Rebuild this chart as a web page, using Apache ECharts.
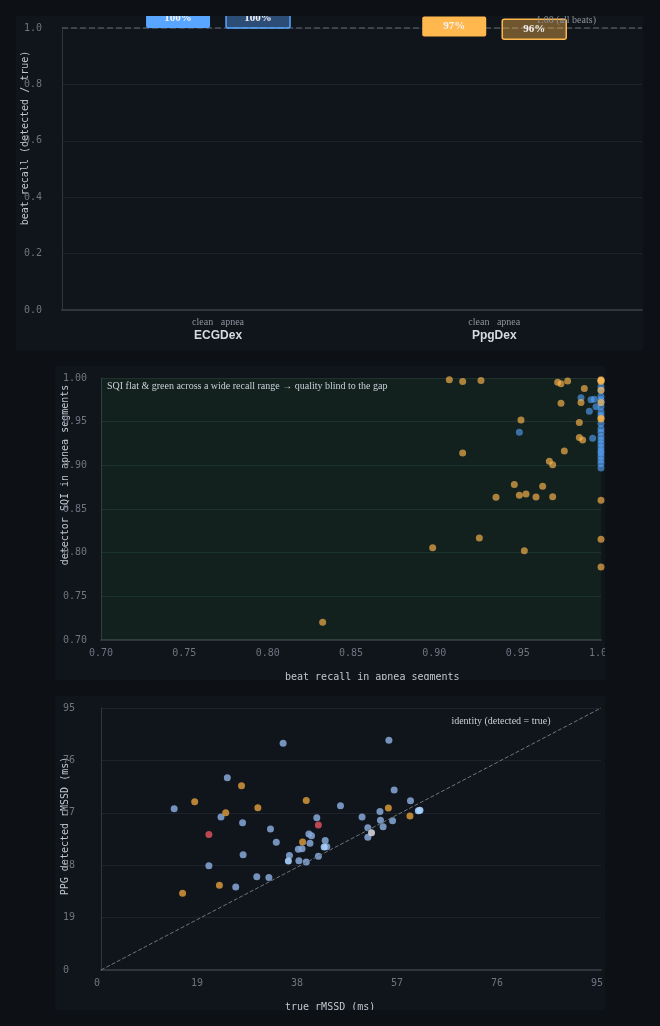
<!DOCTYPE html>
<html>
<head>
<meta charset="utf-8">
<style>
  html, body { margin: 0; padding: 0; background: #0d1015; }
  body { width: 660px; height: 1026px; position: relative; overflow: hidden; }
  .panel { position: absolute; background: #10141b; }
</style>
</head>
<body>
<div id="recallChart" class="panel" style="left:16px; top:16px; width:627px; height:334px"></div>
<div id="sqiChart" class="panel" style="left:55px; top:366px; width:550px; height:314px"></div>
<div id="rmssdChart" class="panel" style="left:55px; top:696px; width:550px; height:314px"></div>
<script src="https://cdn.jsdelivr.net/npm/echarts@6.0.0/dist/echarts.min.js"></script>
<script>
  // ---- data ----
  var detectors = ['ECGDex', 'PpgDex'];
  var conditions = ['clean', 'apnea'];
  var recallClean = [1.00, 0.97];
  var recallApnea = [1.00, 0.96];
  var recallTicks = [0, 0.2, 0.4, 0.6, 0.8, 1.0];

  // [beat recall, SQI] per apnea segment
  var ecgApnea = [
    [0.988, 0.9775], [0.994, 0.975], [0.996, 0.9756], [0.993, 0.962], [0.997, 0.967],
    [0.951, 0.938], [0.995, 0.931],
    [1, 0.997], [1, 0.990], [1, 0.986], [1, 0.979], [1, 0.975], [1, 0.972], [1, 0.967],
    [1, 0.961], [1, 0.957], [1, 0.948], [1, 0.942], [1, 0.938], [1, 0.933], [1, 0.929],
    [1, 0.925], [1, 0.921], [1, 0.917], [1, 0.914], [1, 0.910], [1, 0.906], [1, 0.902], [1, 0.897]
  ];
  var ppgApnea = [
    [0.909, 0.998], [0.917, 0.996], [0.928, 0.997], [0.974, 0.995], [0.976, 0.9935],
    [0.980, 0.9966], [0.990, 0.988], [0.988, 0.972], [0.976, 0.971], [0.952, 0.952],
    [0.987, 0.949], [0.987, 0.932], [0.989, 0.929], [0.917, 0.914], [0.978, 0.9164],
    [0.969, 0.9046], [0.971, 0.9007], [0.948, 0.878], [0.965, 0.876], [0.937, 0.8634],
    [0.951, 0.8657], [0.955, 0.8672], [0.961, 0.8637], [0.971, 0.8641], [1, 0.860],
    [0.927, 0.8168], [1, 0.8153], [0.899, 0.8057], [0.954, 0.8023], [1, 0.7836], [0.833, 0.7203],
    [1, 0.998], [1, 0.997], [1, 0.996], [1, 0.986], [1, 0.972], [1, 0.954], [1, 0.953]
  ];

  // [true rMSSD, PPG detected rMSSD] in ms
  var rmssdBlue = [
    [34.6, 82.2], [54.7, 83.3], [24.0, 69.7], [13.9, 58.5], [22.8, 55.5], [26.9, 53.4],
    [45.5, 59.6], [41.0, 55.2], [32.2, 51.1], [39.5, 49.3], [40.0, 48.7], [42.6, 47.0],
    [39.7, 46.0], [33.3, 46.3], [42.9, 44.7], [37.5, 43.8], [38.2, 44.0], [27.0, 41.8],
    [35.8, 41.5], [41.3, 41.2], [37.6, 39.6], [39.0, 39.2], [20.5, 37.8], [29.6, 33.8],
    [31.9, 33.5], [25.6, 30.1], [55.7, 65.3], [58.8, 61.4], [53.0, 57.5], [49.6, 55.5],
    [53.1, 54.3], [55.4, 54.1], [50.7, 51.6], [53.6, 51.9], [50.7, 48.1]
  ];
  var rmssdOrange = [
    [26.7, 66.8], [17.8, 61.0], [39.0, 61.5], [29.8, 58.8], [23.7, 57.0], [38.3, 46.4],
    [22.5, 30.7], [15.5, 27.8], [54.6, 58.7], [58.7, 55.8]
  ];
  var rmssdRed = [[41.3, 52.6], [20.5, 49.1]];
  var rmssdLight = [[42.4, 44.6], [35.6, 39.5], [60.3, 57.7], [60.6, 57.9]];
  var rmssdWhite = [[51.4, 49.8]];
  var rmssdMax = 95;

  // ---- styles ----
  var detColors = ['#58a6ff', '#ffb84d'];
  var apneaFill = ['rgba(88,166,255,0.4)', 'rgba(255,184,77,0.4)'];
  var tickColor = '#6e7681';
  var titleColor = '#c0c7cf';
  var gridColor = '#1e232b';
  var axisColor = '#30363d';
  var mono = '"DejaVu Sans Mono", monospace';
  var serif = '"Liberation Serif", serif';

  function gridAt(left, right, top, bottom) {
    return { left: left, right: right, top: top, bottom: bottom, containLabel: false, outerBoundsMode: 'none' };
  }
  function yTitle(text, x, y) {
    return {
      type: 'text', x: x, y: y, rotation: Math.PI / 2,
      style: {
        text: text, fill: titleColor, font: '10px ' + mono,
        textAlign: 'center', textVerticalAlign: 'middle', align: 'center', verticalAlign: 'middle'
      }
    };
  }
  function plainText(text, x, y, font, color, align) {
    return {
      type: 'text', x: x, y: y, z: 100,
      style: {
        text: text, fill: color, font: font,
        textAlign: align, textVerticalAlign: 'middle', align: align, verticalAlign: 'middle'
      }
    };
  }

  // ---- panel 1: beat recall boxes ----
  var boxData = [];
  detectors.forEach(function (d, i) {
    boxData.push([i, 0, recallClean[i]]);
    boxData.push([i, 1, recallApnea[i]]);
  });

  function renderBox(params, api) {
    var det = api.value(0), cond = api.value(1), v = api.value(2);
    var p = api.coord([det, v]);
    var w = 64, h = 20;
    var cx = p[0] + (cond === 0 ? -40 : 40);
    var isApnea = cond === 1;
    return {
      type: 'group',
      children: [{
        type: 'rect',
        shape: { x: cx - w / 2, y: p[1] - h, width: w, height: h, r: 2 },
        style: {
          fill: isApnea ? apneaFill[det] : detColors[det],
          stroke: isApnea ? detColors[det] : null,
          lineWidth: 1.5
        }
      }, {
        type: 'text',
        style: {
          text: Math.round(v * 100) + '%', x: cx, y: p[1] - h / 2,
          fill: '#f4f4f4', font: 'bold 11px ' + serif,
          textAlign: 'center', textVerticalAlign: 'middle', align: 'center', verticalAlign: 'middle'
        }
      }]
    };
  }

  function renderCategory(params, api) {
    var det = api.value(0);
    var p = api.coord([det, 0]);
    return {
      type: 'group',
      children: [{
        type: 'text',
        style: {
          text: conditions.join('   '), x: p[0], y: p[1] + 12,
          fill: '#8b949e', font: '10px ' + serif,
          textAlign: 'center', textVerticalAlign: 'middle', align: 'center', verticalAlign: 'middle'
        }
      }, {
        type: 'text',
        style: {
          text: detectors[det], x: p[0], y: p[1] + 26,
          fill: '#d5dae0', font: 'bold 12px "Liberation Sans", sans-serif',
          textAlign: 'center', textVerticalAlign: 'middle', align: 'center', verticalAlign: 'middle'
        }
      }]
    };
  }

  var recallChart = echarts.init(document.getElementById('recallChart'));
  recallChart.setOption({
    animation: false,
    grid: gridAt(46, 1, 12, 40),
    xAxis: {
      type: 'value', min: -0.565, max: 1.535,
      axisLine: { show: true, onZero: false, lineStyle: { color: axisColor, width: 2 } },
      axisTick: { show: false }, axisLabel: { show: false }, splitLine: { show: false }
    },
    yAxis: {
      type: 'value', min: recallTicks[0], max: recallTicks[recallTicks.length - 1], interval: 0.2,
      axisLine: { show: true, onZero: false, lineStyle: { color: axisColor } },
      axisTick: { show: false },
      axisLabel: {
        color: tickColor, fontFamily: mono, fontSize: 10, align: 'left', margin: 38,
        formatter: function (v) { return v.toFixed(1); }
      },
      splitLine: { lineStyle: { color: gridColor } }
    },
    series: [{
      type: 'line', data: [], z: 1, silent: true,
      markLine: {
        symbol: 'none', silent: true, z: 1,
        lineStyle: { type: 'dashed', color: '#4a525c', width: 1.5 },
        label: { show: false },
        data: [{ yAxis: 1 }]
      }
    }, {
      type: 'custom', z: 20, renderItem: renderBox, data: boxData,
      encode: { x: 0, y: 2 }
    }, {
      type: 'custom', z: 20, renderItem: renderCategory,
      data: detectors.map(function (d, i) { return [i, 0]; }),
      encode: { x: 0, y: 1 }
    }],
    graphic: [
      yTitle('beat recall (detected / true)', 9, 122),
      plainText('1.00 (all beats)', 580, 4, '10px ' + serif, '#8b949e', 'right')
    ]
  });

  // ---- panel 2: SQI vs recall ----
  var sqiChart = echarts.init(document.getElementById('sqiChart'));
  function fmt2(v) { return v.toFixed(2); }
  sqiChart.setOption({
    animation: false,
    grid: gridAt(46, 4, 12, 40),
    xAxis: {
      type: 'value', min: 0.7, max: 1.0, interval: 0.05,
      axisLine: { show: true, onZero: false, lineStyle: { color: axisColor, width: 2 } },
      axisTick: { show: false },
      axisLabel: { color: tickColor, fontFamily: mono, fontSize: 10, margin: 8, formatter: fmt2 },
      splitLine: { show: false }
    },
    yAxis: {
      type: 'value', min: 0.7, max: 1.0, interval: 0.05,
      axisLine: { show: true, onZero: false, lineStyle: { color: axisColor } },
      axisTick: { show: false },
      axisLabel: { color: tickColor, fontFamily: mono, fontSize: 10, align: 'left', margin: 38, formatter: fmt2 },
      splitLine: { lineStyle: { color: '#1c2a2a' } }
    },
    series: [{
      name: 'ECGDex', type: 'scatter', data: ecgApnea, symbolSize: 7,
      itemStyle: { color: detColors[0], opacity: 0.6 },
      markArea: {
        silent: true,
        itemStyle: { color: 'rgba(46,160,67,0.09)' },
        data: [[{ yAxis: 0.7 }, { yAxis: 1.0 }]]
      }
    }, {
      name: 'PpgDex', type: 'scatter', data: ppgApnea, symbolSize: 7,
      itemStyle: { color: detColors[1], opacity: 0.65 }
    }],
    graphic: [
      plainText('SQI flat & green across a wide recall range \u2192 quality blind to the gap',
        52, 20, '10px ' + serif, '#c9d1d9', 'left'),
      yTitle('detector SQI in apnea segments', 10, 109),
      plainText('beat recall in apnea segments', 230, 311, '10px ' + mono, titleColor, 'left')
    ]
  });

  // ---- panel 3: detected vs true rMSSD ----
  var rmssdChart = echarts.init(document.getElementById('rmssdChart'));
  function dots(data, color, op) {
    return { type: 'scatter', data: data, symbolSize: 7, itemStyle: { color: color, opacity: op } };
  }
  rmssdChart.setOption({
    animation: false,
    grid: gridAt(46, 4, 12, 40),
    xAxis: {
      type: 'value', min: 0, max: rmssdMax, interval: 19,
      axisLine: { show: true, onZero: false, lineStyle: { color: axisColor, width: 2 } },
      axisTick: { show: false },
      axisLabel: { color: tickColor, fontFamily: mono, fontSize: 10, margin: 8, padding: [0, 8, 0, 0] },
      splitLine: { show: false }
    },
    yAxis: {
      type: 'value', min: 0, max: rmssdMax, interval: 19,
      axisLine: { show: true, onZero: false, lineStyle: { color: axisColor } },
      axisTick: { show: false },
      axisLabel: { color: tickColor, fontFamily: mono, fontSize: 10, align: 'left', margin: 38 },
      splitLine: { lineStyle: { color: gridColor } }
    },
    series: [{
      type: 'line', data: [], z: 1, silent: true,
      markLine: {
        symbol: 'none', silent: true,
        lineStyle: { type: 'dashed', color: '#6e7681', width: 1 },
        label: { show: false },
        data: [[{ coord: [0, 0] }, { coord: [rmssdMax, rmssdMax] }]]
      }
    },
      dots(rmssdBlue, '#86a8d8', 0.85),
      dots(rmssdOrange, '#d6963a', 0.85),
      dots(rmssdRed, '#d9505c', 0.85),
      dots(rmssdLight, '#a9d0ff', 0.9),
      dots(rmssdWhite, '#cfd3d8', 0.9)
    ],
    graphic: [
      plainText('identity (detected = true)', 446, 25, '10px ' + serif, '#c9d1d9', 'center'),
      yTitle('PPG detected rMSSD (ms)', 10, 130),
      plainText('true rMSSD (ms)', 230, 311, '10px ' + mono, titleColor, 'left')
    ]
  });
</script>
</body>
</html>
